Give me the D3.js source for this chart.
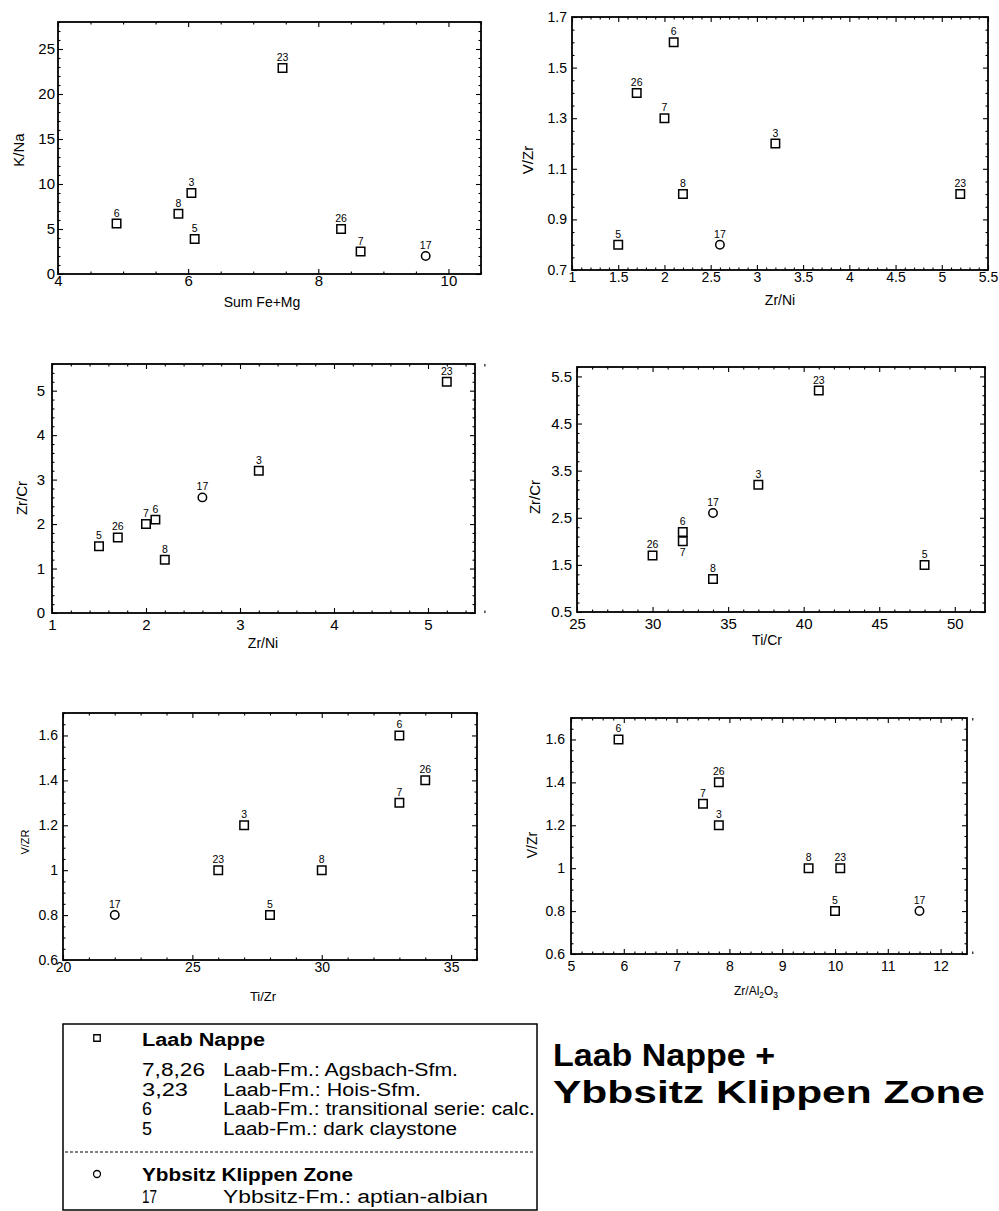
<!DOCTYPE html>
<html><head><meta charset="utf-8">
<script src="https://cdn.jsdelivr.net/npm/d3@7"></script>
<style>
body{margin:0;background:#fff;}
svg{display:block;font-family:"Liberation Sans",Arial,Helvetica,sans-serif;}
</style></head><body>
<svg id="c" width="999" height="1211"></svg>
<script>
// ---------- data ----------
const sampleIds   = ["3","5","6","7","8","17","23","26"];
const sampleGroup = ["Laab Nappe","Laab Nappe","Laab Nappe","Laab Nappe","Laab Nappe","Ybbsitz Klippen Zone","Laab Nappe","Laab Nappe"];

const sumFeMg   = [6.05, 6.1, 4.9, 8.65, 5.85, 9.65, 7.45, 8.35];
const kNa       = [9.0, 3.9, 5.6, 2.5, 6.7, 2.0, 22.9, 5.0];
const zrNi      = [3.2, 1.5, 2.1, 2.0, 2.2, 2.6, 5.2, 1.7];
const vZr       = [1.2, 0.8, 1.6, 1.3, 1.0, 0.8, 1.0, 1.4];
const zrCr      = [3.2, 1.5, 2.1, 2.0, 1.2, 2.6, 5.2, 1.7];
const tiCr      = [37, 48, 32, 32, 34, 34, 41, 30];
const zrCrTiCr  = [3.2, 1.5, 2.2, 2.0, 1.2, 2.6, 5.2, 1.7];
const tiZr      = [27, 28, 33, 33, 30, 22, 26, 34];
const vZR       = [1.2, 0.8, 1.6, 1.3, 1.0, 0.8, 1.0, 1.4];
const zrAl2O3   = [7.8, 10.0, 5.9, 7.5, 9.5, 11.6, 10.1, 7.8];
const vZrAl     = [1.2, 0.8, 1.6, 1.3, 1.0, 0.8, 1.0, 1.4];

const p1XTicks = [4,6,8,10];            const p1YTicks = [0,5,10,15,20,25];
const p2XTicks = [1,1.5,2,2.5,3,3.5,4,4.5,5,5.5]; const p2YTicks = [0.7,0.9,1.1,1.3,1.5,1.7];
const p3XTicks = [1,2,3,4,5];           const p3YTicks = [0,1,2,3,4,5];
const p4XTicks = [25,30,35,40,45,50];   const p4YTicks = [0.5,1.5,2.5,3.5,4.5,5.5];
const p5XTicks = [20,25,30,35];         const p5YTicks = [0.6,0.8,1,1.2,1.4,1.6];
const p6XTicks = [5,6,7,8,9,10,11,12];  const p6YTicks = [0.6,0.8,1,1.2,1.4,1.6];

const legendCodes = ["7,8,26","3,23","6","5"];
const legendDescs = ["Laab-Fm.: Agsbach-Sfm.","Laab-Fm.: Hois-Sfm.","Laab-Fm.: transitional serie: calc.","Laab-Fm.: dark claystone"];
const legendCodes2 = ["17"];
const legendDescs2 = ["Ybbsitz-Fm.: aptian-albian"];
const titleLines = ["Laab Nappe +","Ybbsitz Klippen Zone"];

// ---------- layout ----------
const panels = [
  {x:sumFeMg, y:kNa, xd:[4,10.5], yd:[0,28], xt:p1XTicks, yt:p1YTicks, xm:0.5, ym:1,
   box:[58,22,481,274], xTitle:"Sum Fe+Mg", yTitle:"K/Na", fs:15, xPad:1.5, yPad:3,
   xTitlePos:[262,307], yTitlePos:[19,150], tfs:14, yfs:15},
  {x:zrNi, y:vZr, xd:[1,5.5], yd:[0.7,1.7], xt:p2XTicks, yt:p2YTicks, xm:0.1, ym:0.05,
   box:[572,17,988,270], xTitle:"Zr/Ni", yTitle:"V/Zr", fs:14, xPad:2, yPad:5,
   xTitlePos:[780,305], yTitlePos:[528,160], tfs:14, yfs:15},
  {x:zrNi, y:zrCr, xd:[1,5.5], yd:[0,5.6], xt:p3XTicks, yt:p3YTicks, xm:0.2, ym:0.2,
   box:[52,364,475,613], xTitle:"Zr/Ni", yTitle:"Zr/Cr", fs:15, xPad:6, yPad:7,
   xTitlePos:[263,648], yTitlePos:[22,498], tfs:14, yfs:15},
  {x:tiCr, y:zrCrTiCr, xd:[25,52], yd:[0.5,5.7], xt:p4XTicks, yt:p4YTicks, xm:1, ym:0.2,
   box:[577,367,985,612], xTitle:"Ti/Cr", yTitle:"Zr/Cr", fs:15, xPad:6, yPad:5,
   xTitlePos:[767,645], yTitlePos:[535,497], tfs:14, yfs:15, below:["7"]},
  {x:tiZr, y:vZR, xd:[20,36], yd:[0.6,1.7], xt:p5XTicks, yt:p5YTicks, xm:1, ym:0.05,
   box:[63,713,477,960], xTitle:"Ti/Zr", yTitle:"V/ZR", fs:14, xPad:2, yPad:5,
   xTitlePos:[263,1001], yTitlePos:[25,842], tfs:13, yfs:11},
  {x:zrAl2O3, y:vZrAl, xd:[5,12.5], yd:[0.6,1.7], xt:p6XTicks, yt:p6YTicks, xm:0.2, ym:0.05,
   box:[571,718,967,954], xTitle:"Zr/Al2O3", yTitle:"V/Zr", fs:14, xPad:7, yPad:6,
   xTitlePos:[756,995], yTitlePos:[532,845], tfs:12, yfs:14}
];

const svg = d3.select("#c");

function minorVals(d, step, majors){
  const out = [];
  const n = Math.round((d[1]-d[0])/step);
  for (let i=0;i<=n;i++){
    const v = +(d[0]+i*step).toFixed(6);
    if (!majors.some(m=>Math.abs(m-v)<1e-6)) out.push(v);
  }
  return out;
}

panels.forEach(p=>{
  const [L,T,R,B] = p.box;
  const x = d3.scaleLinear().domain(p.xd).range([L,R]);
  const y = d3.scaleLinear().domain(p.yd).range([B,T]);
  const g = svg.append("g");
  const fmt = v => String(v);

  function ax(axis, tr, labels, vals, size, pad, fs){
    const a = g.append("g").attr("transform", tr)
      .call(axis.tickValues(vals).tickSize(size).tickPadding(pad).tickFormat(labels?fmt:()=>"") );
    a.select(".domain").remove();
    a.selectAll("line").attr("stroke","#000").attr("stroke-width",1.1);
    a.selectAll("text").attr("font-size",fs).attr("font-family","Liberation Sans, Arial, sans-serif").attr("fill","#000");
    return a;
  }
  const xmin = minorVals(p.xd, p.xm, p.xt);
  const ymin = minorVals(p.yd, p.ym, p.yt);
  ax(d3.axisBottom(x), `translate(0,${B})`, true, p.xt, -5, p.xPad, p.fs);
  ax(d3.axisBottom(x), `translate(0,${B})`, false, xmin, -2.5, 0, p.fs);
  ax(d3.axisTop(x), `translate(0,${T})`, false, p.xt, -5, 0, p.fs);
  ax(d3.axisTop(x), `translate(0,${T})`, false, xmin, -2.5, 0, p.fs);
  ax(d3.axisLeft(y), `translate(${L},0)`, true, p.yt, -5, p.yPad, p.fs);
  ax(d3.axisLeft(y), `translate(${L},0)`, false, ymin, -2.5, 0, p.fs);
  ax(d3.axisRight(y), `translate(${R},0)`, false, p.yt, -5, 0, p.fs);
  ax(d3.axisRight(y), `translate(${R},0)`, false, ymin, -2.5, 0, p.fs);

  g.append("rect").attr("x",L).attr("y",T).attr("width",R-L).attr("height",B-T)
    .attr("fill","none").attr("stroke","#000").attr("stroke-width",1.8);

  const xt = g.append("text").attr("x",p.xTitlePos[0]).attr("y",p.xTitlePos[1])
    .attr("text-anchor","middle").attr("font-size",p.tfs);
  if (p.xTitle === "Zr/Al2O3"){
    xt.append("tspan").text("Zr/Al");
    xt.append("tspan").text("2").attr("font-size",p.tfs*0.7).attr("dy",3);
    xt.append("tspan").text("O").attr("dy",-3);
    xt.append("tspan").text("3").attr("font-size",p.tfs*0.7).attr("dy",3);
  } else xt.text(p.xTitle);
  g.append("text").attr("transform",`translate(${p.yTitlePos[0]},${p.yTitlePos[1]}) rotate(-90)`)
    .attr("text-anchor","middle").attr("dy","0.35em").attr("font-size",p.yfs).text(p.yTitle);

  const pts = sampleIds.map((id,i)=>({id, grp:sampleGroup[i], xv:p.x[i], yv:p.y[i]}));
  const sq = d3.symbol().type(d3.symbolSquare).size(72);
  const ci = d3.symbol().type(d3.symbolCircle).size(56);
  g.selectAll("path.pt").data(pts).join("path").attr("class","pt")
    .attr("transform",d=>`translate(${x(d.xv)},${y(d.yv)})`)
    .attr("d",d=>d.grp==="Laab Nappe"?sq():ci())
    .attr("fill","#fff").attr("stroke","#000").attr("stroke-width",1.5);
  g.selectAll("text.lbl").data(pts).join("text").attr("class","lbl")
    .attr("x",d=>x(d.xv))
    .attr("y",d=> (p.below && p.below.includes(d.id)) ? y(d.yv)+15 : y(d.yv)-7)
    .attr("text-anchor","middle").attr("font-size",10.5).text(d=>d.id);
});

// ---------- legend ----------
const lg = svg.append("g");
lg.append("rect").attr("x",63).attr("y",1024).attr("width",474).attr("height",186)
  .attr("fill","none").attr("stroke","#000").attr("stroke-width",1.5);
lg.append("line").attr("x1",65).attr("x2",535).attr("y1",1152).attr("y2",1152)
  .attr("stroke","#000").attr("stroke-width",1).attr("stroke-dasharray","3,2");
lg.append("path").attr("transform","translate(97,1038)").attr("d",d3.symbol().type(d3.symbolSquare).size(42)())
  .attr("fill","#fff").attr("stroke","#000").attr("stroke-width",1.3);
lg.append("path").attr("transform","translate(97,1174)").attr("d",d3.symbol().type(d3.symbolCircle).size(38)())
  .attr("fill","#fff").attr("stroke","#000").attr("stroke-width",1.3);
lg.append("text").attr("x",142).attr("y",1046).attr("font-size",18).attr("font-weight","bold")
  .attr("textLength",123).attr("lengthAdjust","spacingAndGlyphs").text("Laab Nappe");
const codeW = [63,46,10,10];
const descW = [235,198,312,234];
const rowY = [1076,1096,1115,1135];
legendCodes.forEach((c,i)=>{
  lg.append("text").attr("x",142).attr("y",rowY[i]).attr("font-size",18)
    .attr("textLength",codeW[i]).attr("lengthAdjust","spacingAndGlyphs").text(c);
  lg.append("text").attr("x",223).attr("y",rowY[i]).attr("font-size",18)
    .attr("textLength",descW[i]).attr("lengthAdjust","spacingAndGlyphs").text(legendDescs[i]);
});
lg.append("text").attr("x",142).attr("y",1181).attr("font-size",18).attr("font-weight","bold")
  .attr("textLength",211).attr("lengthAdjust","spacingAndGlyphs").text("Ybbsitz Klippen Zone");
lg.append("text").attr("x",142).attr("y",1203).attr("font-size",18)
  .attr("textLength",15).attr("lengthAdjust","spacingAndGlyphs").text(legendCodes2[0]);
lg.append("text").attr("x",223).attr("y",1203).attr("font-size",18)
  .attr("textLength",265).attr("lengthAdjust","spacingAndGlyphs").text(legendDescs2[0]);

// ---------- title ----------
const titleW = [222, 432];
titleLines.forEach((t,i)=>{
  svg.append("text").attr("x",553).attr("y",1066+i*37).attr("font-size",31).attr("font-weight","bold")
    .attr("textLength",titleW[i]).attr("lengthAdjust","spacingAndGlyphs").text(t);
});
</script></body></html>
